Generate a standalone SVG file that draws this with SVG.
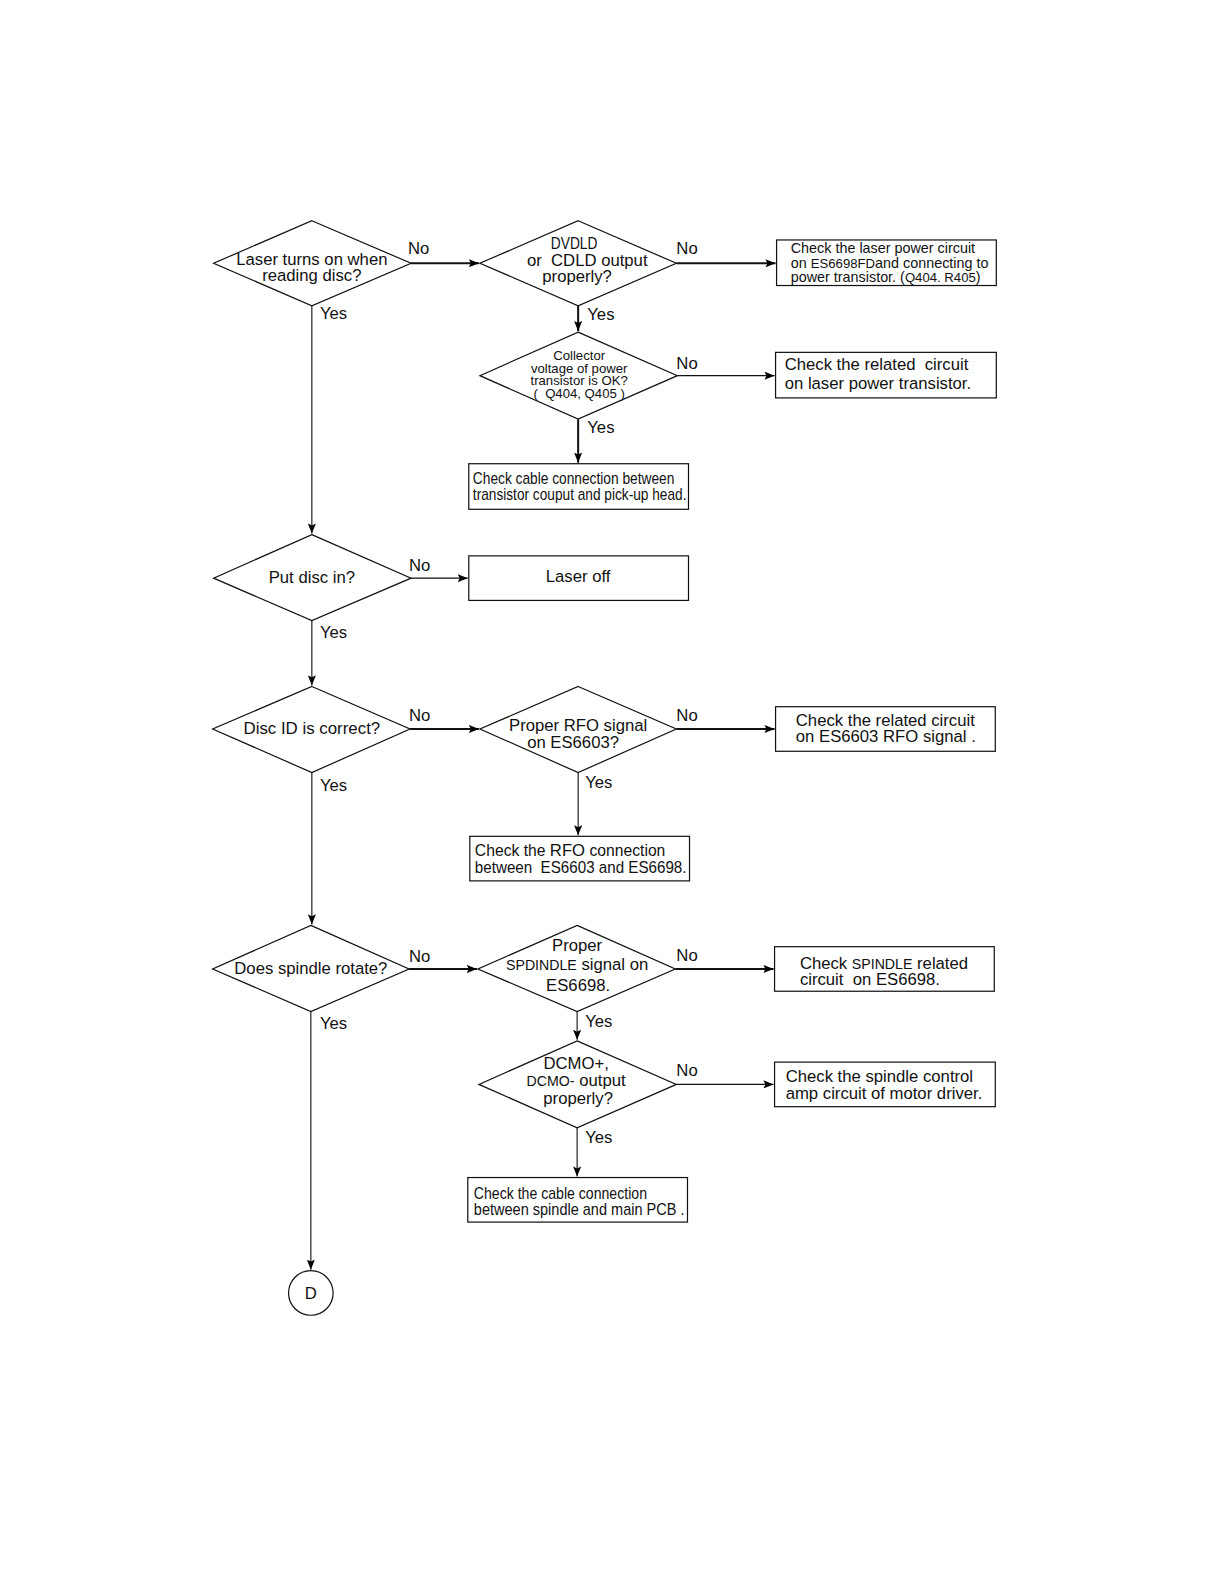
<svg xmlns="http://www.w3.org/2000/svg" width="1219" height="1587" viewBox="0 0 1219 1587">
<defs>
<marker id="ah" viewBox="0 0 10 8" refX="10" refY="4" markerWidth="10" markerHeight="8" markerUnits="userSpaceOnUse" orient="auto">
<path d="M0,0 L10,4 L0,8 L2,4 Z" fill="#000"/>
</marker>
<style>
text{font-family:"Liberation Sans",Arial,sans-serif;fill:#111;}
.n{fill:#fff;stroke:#111;stroke-width:1.2;}
.c{fill:none;stroke:#111;stroke-width:1.1;}
.t{stroke-width:2;}
.lb{font-size:16.5px;}
.d{font-size:16.5px;text-anchor:middle;}
.s{font-size:13px;text-anchor:middle;}
.b{font-size:16.5px;}
.b13{font-size:14.2px;}
.b14{font-size:15.5px;}
</style>
</defs>
<rect width="1219" height="1587" fill="#fff"/>
<g transform="scale(1.0125)">
<g id="connectors">
<path class="c t" d="M406,260 H473" marker-end="url(#ah)"/>
<path class="c t" d="M668,260 H766" marker-end="url(#ah)"/>
<path class="c t" d="M571,302 V327" marker-end="url(#ah)"/>
<path class="c" d="M669,371 H765" marker-end="url(#ah)"/>
<path class="c t" d="M571,414 V457" marker-end="url(#ah)"/>
<path class="c" d="M308,302 V527" marker-end="url(#ah)"/>
<path class="c" d="M406,571 H462" marker-end="url(#ah)"/>
<path class="c" d="M308,613 V677" marker-end="url(#ah)"/>
<path class="c t" d="M405,720 H473" marker-end="url(#ah)"/>
<path class="c t" d="M668,720 H765" marker-end="url(#ah)"/>
<path class="c" d="M571,763 V825" marker-end="url(#ah)"/>
<path class="c" d="M308,763 V913" marker-end="url(#ah)"/>
<path class="c t" d="M404,957 H471" marker-end="url(#ah)"/>
<path class="c t" d="M667,957 H764" marker-end="url(#ah)"/>
<path class="c" d="M570,999 V1027" marker-end="url(#ah)"/>
<path class="c" d="M668,1071 H764" marker-end="url(#ah)"/>
<path class="c" d="M570,1114 V1162" marker-end="url(#ah)"/>
<path class="c" d="M307,999 V1254" marker-end="url(#ah)"/>
<text class="lb" x="403" y="251">No</text>
<text class="lb" x="668" y="251">No</text>
<text class="lb" x="580" y="316">Yes</text>
<text class="lb" x="668" y="364">No</text>
<text class="lb" x="580" y="428">Yes</text>
<text class="lb" x="316" y="315">Yes</text>
<text class="lb" x="404" y="564">No</text>
<text class="lb" x="316" y="630">Yes</text>
<text class="lb" x="404" y="712">No</text>
<text class="lb" x="668" y="712">No</text>
<text class="lb" x="578" y="778">Yes</text>
<text class="lb" x="316" y="781">Yes</text>
<text class="lb" x="404" y="950">No</text>
<text class="lb" x="668" y="949">No</text>
<text class="lb" x="578" y="1014">Yes</text>
<text class="lb" x="668" y="1063">No</text>
<text class="lb" x="578" y="1129">Yes</text>
<text class="lb" x="316" y="1016">Yes</text>
</g>
<g id="d1">
<polygon class="n" points="308,218 406,260 308,302 211,260"/>
<text class="d" x="308" y="262">Laser turns on when</text>
<text class="d" x="308" y="278">reading disc?</text>
</g>
<g id="d2">
<polygon class="n" points="571,218 668,260 571,302 474,260"/>
<text class="d" x="567" y="246" textLength="46" lengthAdjust="spacingAndGlyphs">DVDLD</text>
<text class="d" x="580" y="263" xml:space="preserve">or  CDLD output</text>
<text class="d" x="570" y="279">properly?</text>
</g>
<g id="b1">
<rect class="n" x="767" y="237" width="217" height="45"/>
<text class="b13" x="781" y="250">Check the laser power circuit</text>
<text class="b13" x="781" y="265">on <tspan font-size="13">ES6698FD</tspan>and connecting to</text>
<text class="b13" x="781" y="279">power transistor. (<tspan font-size="13">Q404. R405</tspan>)</text>
</g>
<g id="d3">
<polygon class="n" points="571,328 669,371 571,414 474,371"/>
<text class="s" x="572" y="356">Collector</text>
<text class="s" x="572" y="368">voltage of power</text>
<text class="s" x="572" y="380">transistor is OK?</text>
<text class="s" x="572" y="393" xml:space="preserve">(  Q404, Q405 )</text>
</g>
<g id="b2">
<rect class="n" x="766" y="348" width="218" height="45"/>
<text class="b" x="775" y="365" xml:space="preserve">Check the related  circuit</text>
<text class="b" x="775" y="384">on laser power transistor.</text>
</g>
<g id="b3">
<rect class="n" x="463" y="458" width="217" height="45"/>
<text class="b14" x="467" y="478" textLength="199" lengthAdjust="spacingAndGlyphs">Check cable connection between</text>
<text class="b14" x="467" y="494" textLength="211" lengthAdjust="spacingAndGlyphs">transistor couput and pick-up head.</text>
</g>
<g id="d4">
<polygon class="n" points="308,528 406,571 308,613 211,571"/>
<text class="d" x="308" y="576">Put disc in?</text>
</g>
<g id="b4">
<rect class="n" x="463" y="549" width="217" height="44"/>
<text class="d" x="571" y="575">Laser off</text>
</g>
<g id="d5">
<polygon class="n" points="308,678 405,720 308,763 210,720"/>
<text class="d" x="308" y="725" textLength="135" lengthAdjust="spacingAndGlyphs">Disc ID is correct?</text>
</g>
<g id="d6">
<polygon class="n" points="571,678 668,720 571,763 474,720"/>
<text class="d" x="571" y="722" font-size="16">Proper RFO signal</text>
<text class="d" x="566" y="739" font-size="16">on ES6603?</text>
</g>
<g id="b5">
<rect class="n" x="766" y="698" width="217" height="44"/>
<text class="b" x="786" y="717">Check the related circuit</text>
<text class="b" x="786" y="733">on ES6603 RFO signal .</text>
</g>
<g id="b6">
<rect class="n" x="464" y="826" width="217" height="44"/>
<text class="b14" x="469" y="845">Check the <tspan font-size="16.5">RFO</tspan> connection</text>
<text class="b14" x="469" y="862" textLength="209" lengthAdjust="spacingAndGlyphs" xml:space="preserve">between  ES6603 and ES6698.</text>
</g>
<g id="d7">
<polygon class="n" points="307,914 404,957 307,999 210,957"/>
<text class="d" x="307" y="962">Does spindle rotate?</text>
</g>
<g id="d8">
<polygon class="n" points="570,914 667,957 570,999 472,957"/>
<text class="d" x="570" y="939">Proper</text>
<text class="d" x="570" y="958"><tspan font-size="14">SPDINDLE</tspan> signal on</text>
<text class="d" x="571" y="979">ES6698.</text>
</g>
<g id="b7">
<rect class="n" x="765" y="935" width="217" height="44"/>
<text class="b" x="790" y="957">Check <tspan font-size="14">SPINDLE</tspan> related</text>
<text class="b" x="790" y="973" xml:space="preserve">circuit  on ES6698.</text>
</g>
<g id="d9">
<polygon class="n" points="570,1028 668,1071 570,1114 473,1071"/>
<text class="d" x="569" y="1056" font-size="15">DCMO+,</text>
<text class="d" x="569" y="1073"><tspan font-size="14">DCMO-</tspan> output</text>
<text class="d" x="571" y="1090">properly?</text>
</g>
<g id="b8">
<rect class="n" x="765" y="1049" width="218" height="44"/>
<text class="b" x="776" y="1069">Check the spindle control</text>
<text class="b" x="776" y="1085">amp circuit of motor driver.</text>
</g>
<g id="b9">
<rect class="n" x="462" y="1163" width="217" height="44"/>
<text class="b14" x="468" y="1184" textLength="171" lengthAdjust="spacingAndGlyphs">Check the cable connection</text>
<text class="b14" x="468" y="1200" textLength="208" lengthAdjust="spacingAndGlyphs">between spindle and main PCB .</text>
</g>
<g id="dD">
<circle class="n" cx="307" cy="1277" r="22"/>
<text class="d" x="307" y="1283" font-size="17">D</text>
</g>
</g>
</svg>
